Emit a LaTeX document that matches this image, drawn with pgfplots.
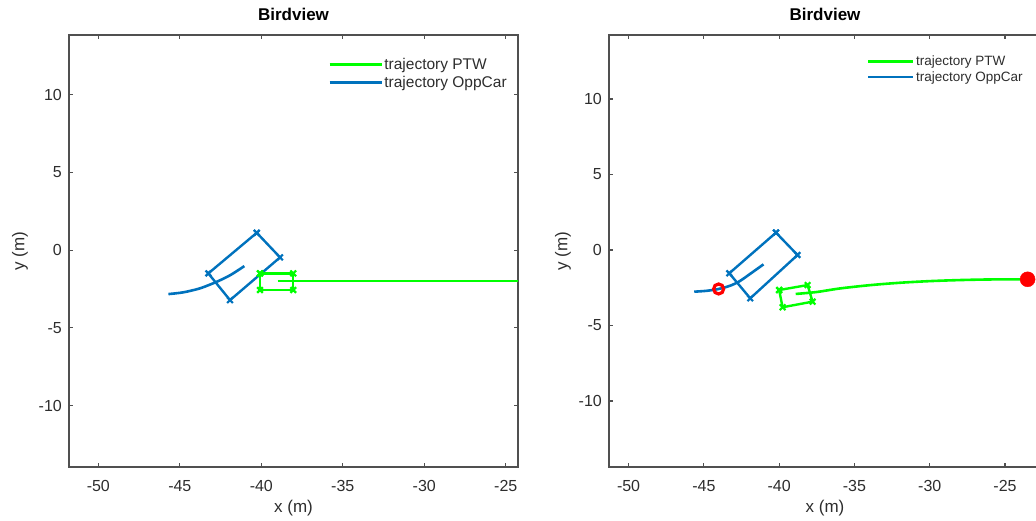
\documentclass[border=0pt]{standalone}
\usepackage{pgfplots}
\pgfplotsset{compat=1.18}
\usepackage{fontspec}
\setmainfont{Liberation Sans}
\definecolor{mblue}{RGB}{0,114,189}
\definecolor{mgreen}{RGB}{0,255,0}
\definecolor{axgray}{RGB}{80,80,80}
\definecolor{txtgray}{RGB}{45,45,45}

\pgfplotsset{
  bird/.style={
    scale only axis,
    axis line style={axgray, line width=1.2pt},
    tick style={axgray, line width=1.1pt},
    tick align=inside, major tick length=4pt,
    xtick={-50,-45,-40,-35,-30,-25}, xticklabels={-50,-45,-40,-35,-30,-25},
    ytick={-10,-5,0,5,10}, yticklabels={-10,-5,0,5,10},
    ticklabel style={font=\fontsize{16}{19}\selectfont, text=txtgray},
    xticklabel style={anchor=center, yshift=-19pt, inner sep=0pt},
    yticklabel style={anchor=east, xshift=-7pt, inner sep=0pt},
    title={Birdview},
    title style={font=\bfseries\fontsize{17}{20}\selectfont, anchor=center, at={(axis description cs:0.5,1.0347)}},
    xlabel={x (m)}, ylabel={y (m)},
    every axis x label/.style={at={(axis description cs:0.5,-0.095)}, anchor=center, font=\fontsize{17}{20}\selectfont, text=txtgray},
    legend cell align=left,
    legend image code/.code={\draw[#1] (0pt,0pt) -- (52pt,0pt);},
  },
  traj/.style={line width=2.6pt, no marks, smooth},
  rect/.style={line width=2.4pt, mark=x, mark size=4pt, mark options={line width=2.2pt, solid}},
}

\begin{document}
\begin{tikzpicture}[x=1pt,y=1pt]
% ---------------- left panel ----------------
\begin{axis}[bird,
  at={(69pt,53pt)}, anchor=south west,
  width=449pt, height=432pt,
  xmin=-51.8, xmax=-24.25, ymin=-13.95, ymax=13.83,
  every axis y label/.style={at={(axis description cs:-0.109,0.5)}, anchor=center, rotate=90, font=\fontsize{17}{20}\selectfont, text=txtgray},
  legend style={at={(axis description cs:0.577,0.95)}, anchor=north west, draw=none, fill=none,
    inner sep=0pt, row sep=2pt, nodes={inner sep=1.5pt}, font=\fontsize{15.5}{18}\selectfont, text=txtgray},
]
\addplot[traj, mgreen] coordinates {(-39.0,-2.0) (-30,-2.0) (-20,-2.0)};
\addlegendentry{trajectory PTW}
\addplot[traj, mblue] coordinates {(-45.7,-2.83) (-44.8,-2.72) (-43.76,-2.46) (-42.74,-2.04) (-41.9,-1.61) (-41.04,-1.03)};
\addlegendentry{trajectory OppCar}
\addplot[rect, mblue, forget plot] coordinates {(-40.28,1.11) (-38.85,-0.47) (-41.92,-3.22) (-43.25,-1.50) (-40.28,1.11)};
\addplot[rect, mgreen, forget plot] coordinates {(-40.08,-1.50) (-38.04,-1.50) (-38.04,-2.57) (-40.08,-2.57) (-40.08,-1.50)};
\end{axis}

% ---------------- right panel ----------------
\begin{axis}[bird,
  at={(609pt,53pt)}, anchor=south west,
  width=432pt, height=432pt,
  xmin=-51.3, xmax=-22.61, ymin=-14.37, ymax=14.24,
  every axis y label/.style={at={(axis description cs:-0.1065,0.5)}, anchor=center, rotate=90, font=\fontsize{17}{20}\selectfont, text=txtgray},
  legend image code/.code={\draw[#1] (0pt,0pt) -- (45pt,0pt);},
  legend style={at={(axis description cs:0.597,0.955)}, anchor=north west, draw=none, fill=none,
    inner sep=0pt, row sep=1pt, nodes={inner sep=1.5pt}, font=\fontsize{13.5}{16}\selectfont, text=txtgray},
]
\addplot[traj, mgreen] coordinates {(-38.9,-2.91) (-37.5,-2.78) (-36,-2.55) (-34,-2.33) (-32,-2.17) (-30,-2.06) (-28,-1.99) (-26,-1.95) (-23.5,-1.94)};
\addlegendentry{trajectory PTW}
\addplot[traj, mblue] coordinates {(-45.64,-2.76) (-44.8,-2.7) (-44.02,-2.58) (-43.3,-2.38) (-42.65,-2.08) (-41.87,-1.54) (-41.04,-0.95)};
\addlegendentry{trajectory OppCar}
\addplot[rect, mblue, forget plot] coordinates {(-40.21,1.15) (-38.78,-0.33) (-41.92,-3.2) (-43.31,-1.54) (-40.21,1.15)};
\addplot[rect, mgreen, forget plot] coordinates {(-40.0,-2.65) (-38.11,-2.32) (-37.78,-3.42) (-39.77,-3.79) (-40.0,-2.65)};
\addplot[only marks, mark=o, mark size=5pt, mark options={draw=red, line width=3.2pt}, forget plot] coordinates {(-44.02,-2.58)};
\addplot[only marks, mark=*, mark size=7.5pt, mark options={draw=red, fill=red}, forget plot] coordinates {(-23.5,-1.94)};
\end{axis}

\pgfresetboundingbox
\path (0pt,0pt) rectangle (1036pt,520pt);
\end{tikzpicture}
\end{document}
